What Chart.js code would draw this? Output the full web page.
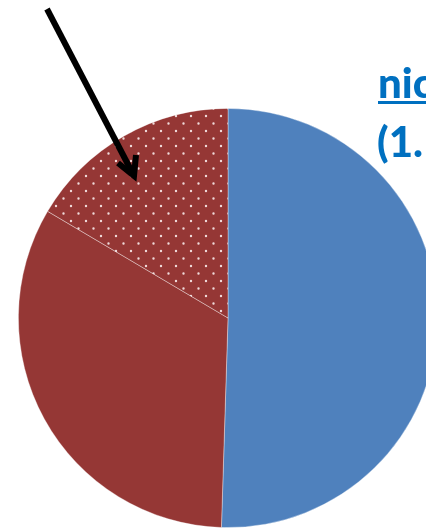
<!DOCTYPE html>
<html>
<head>
<meta charset="utf-8">
<script src="https://cdn.jsdelivr.net/npm/chart.js@4/dist/chart.umd.min.js"></script>
<style>
  html, body { margin: 0; padding: 0; background: #fff; overflow: hidden; }
  #wrap { position: absolute; left: 0; top: 0; width: 456px; height: 528px; }
</style>
</head>
<body>
<div id="wrap"><canvas id="pieChart"></canvas></div>
<script>
// slice data, clockwise from 12 o'clock
const labels = ["Series A", "Series B", "Series C"];
const values = [50.5, 33.0, 16.5];
const colors = ["#4F81BD", "#953735", "#953735"];

// white dot pattern for the last slice
function dotPattern(base) {
  const tile = document.createElement("canvas");
  tile.width = 15;
  tile.height = 15;
  const t = tile.getContext("2d");
  t.fillStyle = base;
  t.fillRect(0, 0, 15, 15);
  t.fillStyle = "#efdada";
  t.beginPath();
  t.arc(3.5, 3.5, 1.2, 0, Math.PI * 2);
  t.arc(11, 11, 1.2, 0, Math.PI * 2);
  t.fill();
  return t.createPattern(tile, "repeat");
}

const overlay = {
  id: "overlay",
  afterDraw(chart) {
    const ctx = chart.ctx;
    ctx.save();
    // label text, cut off at the right edge
    ctx.fillStyle = "#0070C0";
    ctx.font = "900 42px Lato";
    ctx.textBaseline = "alphabetic";
    ctx.fillText("nic", 378, 98);
    ctx.fillRect(378, 101, 60, 3);
    ctx.fillText("(1.", 377, 157);
    // arrow
    ctx.strokeStyle = "#000";
    ctx.lineWidth = 6;
    ctx.lineCap = "butt";
    ctx.beginPath();
    ctx.moveTo(47, 9);
    ctx.lineTo(133, 174);
    ctx.stroke();
    ctx.lineJoin = "miter";
    ctx.beginPath();
    ctx.moveTo(118, 163);
    ctx.lineTo(134, 176);
    ctx.lineTo(136, 155);
    ctx.stroke();
    ctx.restore();
  },
};

document.addEventListener("DOMContentLoaded", () => {
  const ctx = document.getElementById("pieChart").getContext("2d");
  const bg = colors.slice();
  bg[2] = dotPattern(colors[2]);

  new Chart(ctx, {
    type: "pie",
    data: {
      labels: labels,
      datasets: [
        {
          data: values,
          backgroundColor: bg,
          borderColor: "rgba(255,255,255,0.45)",
          borderWidth: 0.8,
        },
      ],
    },
    options: {
      responsive: true,
      maintainAspectRatio: false,
      animation: false,
      layout: { padding: { top: 108, left: 0, right: 0, bottom: 0 } },
      plugins: {
        legend: { display: false },
        tooltip: { enabled: false },
      },
    },
    plugins: [overlay],
  });
});
</script>
</body>
</html>
